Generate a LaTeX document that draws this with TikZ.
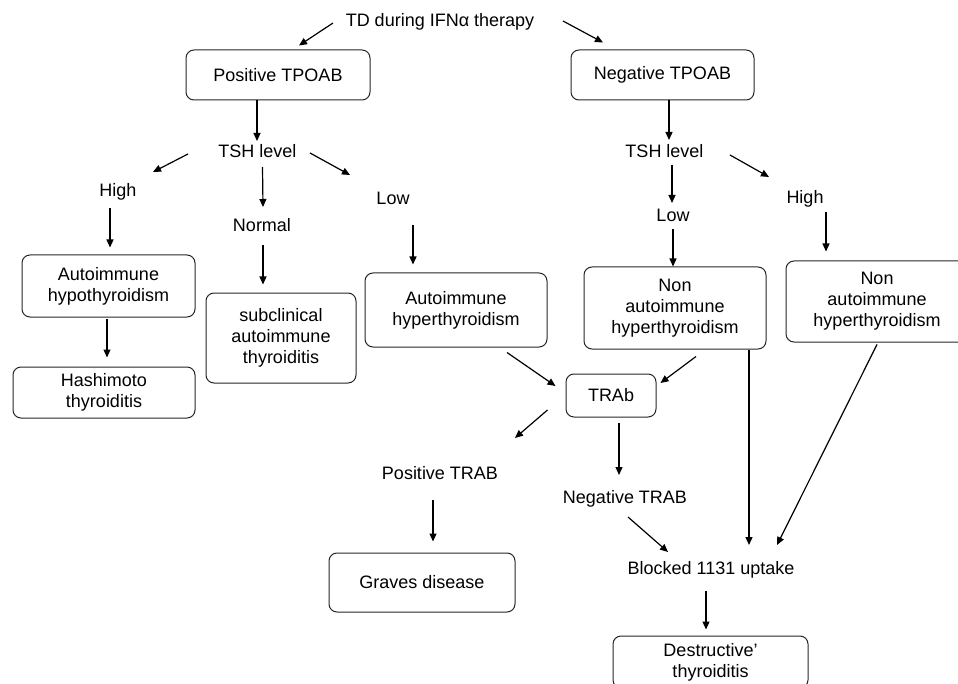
\documentclass[tikz,border=0pt]{standalone}
\usepackage{fontspec}
\setmainfont{Liberation Sans}
\usetikzlibrary{calc,arrows.meta}

\begin{document}
\begin{tikzpicture}[x=0.5pt, y=-0.5pt,
    font=\fontsize{9}{10.5}\selectfont,
    box/.style={draw=black!85, line width=0.5pt, rounded corners=4pt, align=center, inner sep=0pt},
    lbl/.style={inner sep=0pt, text height=6.5pt, text depth=0pt},
    arr/.style={-{Triangle[length=4pt,width=3.5pt]}, line width=0.6pt}]

    \path[use as bounding box, clip] (0,0) rectangle (958,684);

    % Top of the tree
    \node[lbl] (td) at (440,20) {TD during IFNα therapy};
    \node[box, minimum width=92pt, minimum height=25pt] (pos) at (278,75) {Positive TPOAB};
    \node[box, minimum width=91.5pt, minimum height=25pt] (neg) at (662.5,75) {Negative TPOAB};

    % Left branch: positive TPOAB
    \node[lbl] (tshL) at (257.5,151) {TSH level};
    \node[lbl] (highL) at (118,190) {High};
    \node[lbl] (normal) at (262,225) {Normal};
    \node[lbl] (lowL) at (393,198) {Low};
    \node[box, minimum width=86.5pt, minimum height=31pt] (ahypo) at (108.5,286) {Autoimmune\\hypothyroidism};
    \node[box, minimum width=91pt, minimum height=25.5pt] (hash) at (104,392.5) {Hashimoto\\thyroiditis};
    \node[box, minimum width=75pt, minimum height=45pt] (subc) at (281,338) {subclinical\\autoimmune\\thyroiditis};
    \node[box, minimum width=91pt, minimum height=37pt] (ahyper) at (456,310) {Autoimmune\\hyperthyroidism};

    % Right branch: negative TPOAB
    \node[lbl] (tshR) at (664.5,151) {TSH level};
    \node[lbl] (lowR) at (673,215) {Low};
    \node[lbl] (highR) at (805,197) {High};
    \node[box, minimum width=91pt, minimum height=41pt] (non1) at (675,308) {Non\\autoimmune\\hyperthyroidism};
    \node[box, minimum width=91pt, minimum height=40.5pt] (non2) at (877,301.5) {Non\\autoimmune\\hyperthyroidism};

    % TRAb and below
    \node[box, minimum width=45pt, minimum height=21.5pt] (trab) at (611,395.5) {TRAb};
    \node[lbl] (posT) at (440,473) {Positive TRAB};
    \node[lbl] (negT) at (625,497) {Negative TRAB};
    \node[box, minimum width=93pt, minimum height=29.5pt] (graves) at (422,582.5) {Graves disease};
    \node[lbl] (blocked) at (711,568) {Blocked 1131 uptake};
    \node[box, minimum width=97.5pt, minimum height=26pt] (dest) at (710.5,662) {Destructive’\\thyroiditis};

    % arrows
    \draw[arr] ($(td)+(-107,3)$) -- ($(pos.north)+(21,-4)$);
    \draw[arr] ($(td)+(123,1)$) -- ($(neg.north)+(-59.5,-7)$);
    \draw[arr] ($(pos.south)+(-21,0)$) -- ($(tshL)+(-0.5,-10)$);
    \draw[arr] ($(tshL)+(-69.5,3)$) -- ($(highL)+(35,-18)$);
    \draw[arr] ($(tshL)+(5,16)$) -- ($(normal)+(1,-18)$);
    \draw[arr] ($(tshL)+(52.5,2)$) -- ($(lowL)+(-43,-23)$);
    \draw[arr] ($(highL)+(-8,18)$) -- ($(ahypo.north)+(1.5,-7)$);
    \draw[arr] ($(normal)+(1,20)$) -- ($(subc.north)+(-18,-8)$);
    \draw[arr] ($(lowL)+(20,27)$) -- ($(ahyper.north)+(-43,-8)$);
    \draw[arr] ($(ahypo.south)+(-1.5,1)$) -- ($(hash.north)+(3,-9)$);

    \draw[arr] ($(neg.south)+(6.5,0)$) -- ($(tshR)+(4.5,-11)$);
    \draw[arr] ($(tshR)+(7.5,14)$) -- ($(lowR)+(-1,-12)$);
    \draw[arr] ($(tshR)+(65.5,4)$) -- ($(highR)+(-36,-20)$);
    \draw[arr] ($(lowR)+(0,14)$) -- ($(non1.north)+(-2,0)$);
    \draw[arr] ($(highR)+(21,15)$) -- ($(non2.north)+(-51,-9)$);

    \draw[arr] ($(ahyper.south)+(51,5)$) -- ($(trab.west)+(-10,-9.5)$);
    \draw[arr] ($(non1.south)+(21,7)$) -- ($(trab.east)+(4,-12.5)$);
    \draw[arr] ($(non1.south)+(74,0)$) -- ($(blocked)+(38,-23)$);
    \draw[arr] ($(non2.south)+(0,2)$) -- ($(blocked)+(66,-23)$);
    \draw[arr] ($(trab.west)+(-18,14.5)$) -- ($(posT)+(75,-35)$);
    \draw[arr] ($(trab.south)+(8,5)$) -- ($(negT)+(-6,-22)$);
    \draw[arr] ($(posT)+(-7,27)$) -- ($(graves.north)+(11,-11)$);
    \draw[arr] ($(negT)+(3,20)$) -- ($(blocked)+(-43,-16)$);
    \draw[arr] ($(blocked)+(-5,23)$) -- ($(dest.north)+(-4.5,-6)$);

\end{tikzpicture}
\end{document}
